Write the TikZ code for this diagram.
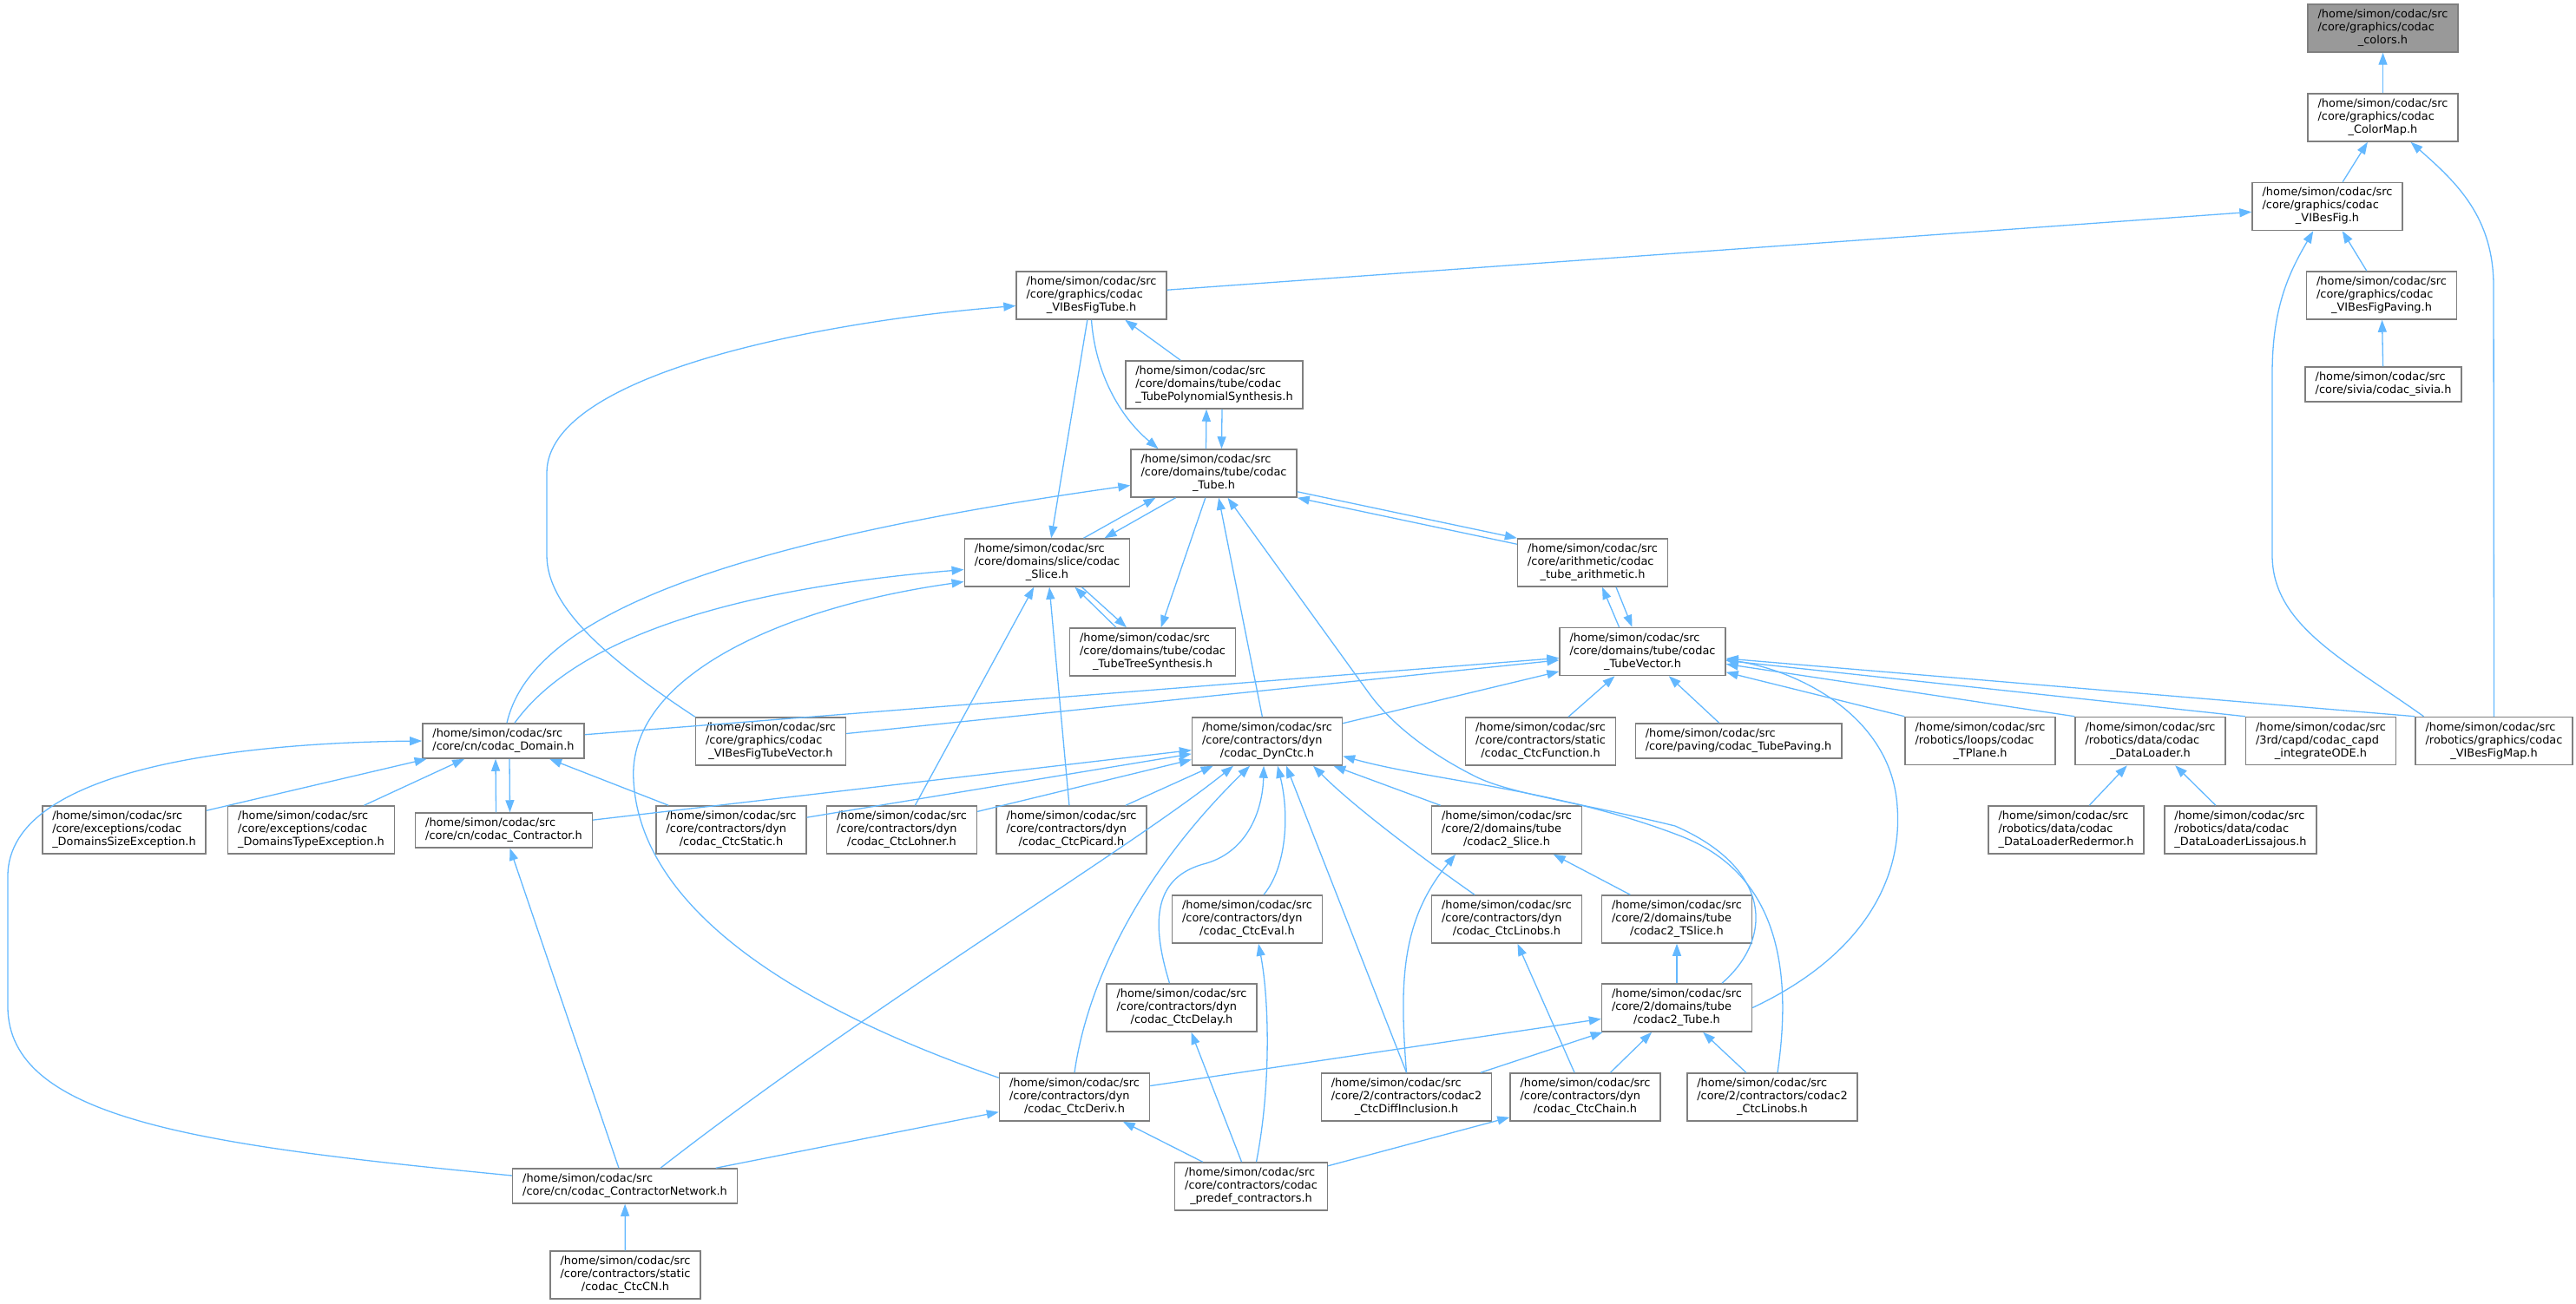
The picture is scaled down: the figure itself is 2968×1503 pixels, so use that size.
\documentclass[tikz,border=0pt]{standalone}
\usepackage{fontspec}
\setmainfont{DejaVu Sans}
\usepackage{tikz}
\usetikzlibrary{arrows.meta}
\definecolor{edgeblue}{HTML}{63B8FF}
\definecolor{boxgray}{HTML}{7F7F7F}
\definecolor{rootgray}{HTML}{999999}
\newcommand{\srcpath}[2]{\begin{tabular}{@{}l@{}}/home/simon/codac/src\\#1\\\multicolumn{1}{@{}c@{}}{#2}\end{tabular}}
\newcommand{\srcpathb}[1]{\begin{tabular}{@{}l@{}}/home/simon/codac/src\\#1\end{tabular}}

\begin{document}
\begin{tikzpicture}[x=1pt, y=-1pt,
    file/.style={draw=boxgray, line width=1.5pt, fill=white, inner xsep=11.5pt, inner ysep=5pt, font={\fontsize{12.9}{15}\selectfont}},
    rootfile/.style={file, fill=rootgray},
    inc/.style={draw=edgeblue, line width=1.3pt, -{Triangle[length=14pt,width=10pt]}}]
    \useasboundingbox (0,0) rectangle (2968,1503);

    % graphics
    \node[rootfile] (colors) at (2745.5,32.5) {\srcpath{/core/graphics/codac}{\_colors.h}};
    \node[file] (cmap) at (2745.5,135.5) {\srcpath{/core/graphics/codac}{\_ColorMap.h}};
    \node[file] (vbfig) at (2681.5,238) {\srcpath{/core/graphics/codac}{\_VIBesFig.h}};
    \node[file] (vbftube) at (1257.5,340.5) {\srcpath{/core/graphics/codac}{\_VIBesFigTube.h}};
    \node[file] (vbfpaving) at (2744,340.5) {\srcpath{/core/graphics/codac}{\_VIBesFigPaving.h}};
    \node[file] (tps) at (1399,443.5) {\srcpath{/core/domains/tube/codac}{\_TubePolynomialSynthesis.h}};
    \node[file] (sivia) at (2746,443) {\srcpathb{/core/sivia/codac\_sivia.h}};

    % domains
    \node[file] (tube) at (1398.5,545.5) {\srcpath{/core/domains/tube/codac}{\_Tube.h}};
    \node[file] (slice) at (1206.5,648.5) {\srcpath{/core/domains/slice/codac}{\_Slice.h}};
    \node[file] (arith) at (1835,648.5) {\srcpath{/core/arithmetic/codac}{\_tube\_arithmetic.h}};
    \node[file] (tts) at (1328,751.5) {\srcpath{/core/domains/tube/codac}{\_TubeTreeSynthesis.h}};
    \node[file] (tvec) at (1892.5,751) {\srcpath{/core/domains/tube/codac}{\_TubeVector.h}};

    \node[file] (domain) at (580,854) {\srcpathb{/core/cn/codac\_Domain.h}};
    \node[file] (vbftvec) at (888,854.5) {\srcpath{/core/graphics/codac}{\_VIBesFigTubeVector.h}};
    \node[file] (dynctc) at (1460,854.5) {\srcpath{/core/contractors/dyn}{/codac\_DynCtc.h}};
    \node[file] (ctcfunc) at (1775,854.5) {\srcpath{/core/contractors/static}{/codac\_CtcFunction.h}};
    \node[file] (tpaving) at (2003,854) {\srcpathb{/core/paving/codac\_TubePaving.h}};
    \node[file] (tplane) at (2281.5,854) {\srcpath{/robotics/loops/codac}{\_TPlane.h}};
    \node[file] (dloader) at (2477.5,854) {\srcpath{/robotics/data/codac}{\_DataLoader.h}};
    \node[file] (capd) at (2674,854) {\srcpath{/3rd/capd/codac\_capd}{\_integrateODE.h}};
    \node[file] (vbfmap) at (2873.5,854) {\srcpath{/robotics/graphics/codac}{\_VIBesFigMap.h}};

    % contractors
    \node[file] (dsizeexc) at (143,956.5) {\srcpath{/core/exceptions/codac}{\_DomainsSizeException.h}};
    \node[file] (dtypeexc) at (358.5,956.5) {\srcpath{/core/exceptions/codac}{\_DomainsTypeException.h}};
    \node[file] (contractor) at (580.5,957) {\srcpathb{/core/cn/codac\_Contractor.h}};
    \node[file] (ctcstatic) at (842.5,956.5) {\srcpath{/core/contractors/dyn}{/codac\_CtcStatic.h}};
    \node[file] (ctclohner) at (1039,956.5) {\srcpath{/core/contractors/dyn}{/codac\_CtcLohner.h}};
    \node[file] (ctcpicard) at (1234.5,956.5) {\srcpath{/core/contractors/dyn}{/codac\_CtcPicard.h}};
    \node[file] (cslice) at (1736,956.5) {\srcpath{/core/2/domains/tube}{/codac2\_Slice.h}};
    \node[file] (dlredermor) at (2380.5,956.5) {\srcpath{/robotics/data/codac}{\_DataLoaderRedermor.h}};
    \node[file] (dllissajous) at (2581.5,956.5) {\srcpath{/robotics/data/codac}{\_DataLoaderLissajous.h}};

    \node[file] (ctceval) at (1437,1059.5) {\srcpath{/core/contractors/dyn}{/codac\_CtcEval.h}};
    \node[file] (ctclinobs) at (1736,1059.5) {\srcpath{/core/contractors/dyn}{/codac\_CtcLinobs.h}};
    \node[file] (ctslice) at (1932,1059.5) {\srcpath{/core/2/domains/tube}{/codac2\_TSlice.h}};
    \node[file] (ctcdelay) at (1361.5,1161.5) {\srcpath{/core/contractors/dyn}{/codac\_CtcDelay.h}};
    \node[file] (ctube) at (1932,1161.5) {\srcpath{/core/2/domains/tube}{/codac2\_Tube.h}};
    \node[file] (ctcderiv) at (1238,1264.5) {\srcpath{/core/contractors/dyn}{/codac\_CtcDeriv.h}};
    \node[file] (cdiffincl) at (1620.5,1264.5) {\srcpath{/core/2/contractors/codac2}{\_CtcDiffInclusion.h}};
    \node[file] (ctcchain) at (1826.5,1264.5) {\srcpath{/core/contractors/dyn}{/codac\_CtcChain.h}};
    \node[file] (clinobs) at (2042,1264.5) {\srcpath{/core/2/contractors/codac2}{\_CtcLinobs.h}};
    \node[file] (cnet) at (720,1367) {\srcpathb{/core/cn/codac\_ContractorNetwork.h}};
    \node[file] (predef) at (1441.5,1367.5) {\srcpath{/core/contractors/codac}{\_predef\_contractors.h}};
    \node[file] (ctccn) at (720.5,1469.5) {\srcpath{/core/contractors/static}{/codac\_CtcCN.h}};

    % top part
    \draw[inc] (cmap) -- (colors);
    \draw[inc] (vbfig) -- (cmap);
    \draw[inc] (vbfmap.north) -- (2873,330) .. controls (2873,250) and (2830,210) .. (cmap);
    \draw[inc] (vbftube) -- (vbfig);
    \draw[inc] (vbfpaving) -- (vbfig);
    \draw[inc] ([xshift=-81pt]vbfmap.north) .. controls (2700,760) and (2618,720) .. (2618,640) -- (2618,430) .. controls (2618,350) and (2640,310) .. (vbfig);
    \draw[inc] (sivia) -- (vbfpaving);
    \draw[inc] (tps) -- (vbftube);
    \draw[inc] ([xshift=-9pt]tube.north) -- ([xshift=-9pt]tps.south);
    \draw[inc] ([xshift=9pt]tps.south) -- ([xshift=9pt]tube.north);
    \draw[inc] (vbftube.south) .. controls (1262,430) and (1290,480) .. ([xshift=-64pt]tube.north);
    \draw[inc] (vbftube) -- (slice);
    \draw[inc] (vbftvec.north west) .. controls (700,760) and (630,700) .. (630,640) -- (630,545) .. controls (630,430) and (950,370) .. ([yshift=-12pt]vbftube.west);

    % tube, slice, vector
    \draw[inc] ([xshift=42pt]slice.north) -- ([xshift=-67pt]tube.south);
    \draw[inc] ([xshift=-44pt]tube.south) -- ([xshift=66pt]slice.north);
    \draw[inc] ([yshift=7pt]tube.south east) -- (arith.north west);
    \draw[inc] ([yshift=-7pt]arith.north west) -- (tube.south east);
    \draw[inc] ([xshift=4pt]domain.north) .. controls (610,720) and (800,630) .. ([yshift=-14pt]tube.west);
    \draw[inc] ([xshift=13pt]domain.north) .. controls (660,740) and (830,680) .. ([yshift=-8pt]slice.west);
    \draw[inc] (tube) -- (tts);
    \draw[inc] ([xshift=40pt]slice.south) -- ([xshift=-30pt]tts.north);
    \draw[inc] ([xshift=-42pt]tts.north) -- ([xshift=32pt]slice.south);
    \draw[inc] (dynctc) -- (tube);
    \draw[inc] ([xshift=52pt]ctube.north) .. controls (2045,1080) and (2040,1000) .. (1930,952) .. controls (1820,925) and (1740,915) .. (1700,895) .. controls (1640,865) and (1600,830) .. (1578,800) -- ([xshift=16pt]tube.south);
    \draw[inc] ([xshift=-27pt]tvec.north) -- ([xshift=11pt]arith.south);
    \draw[inc] ([xshift=27pt]arith.south) -- ([xshift=-12pt]tvec.north);
    \draw[inc] (domain) -- (tvec);
    \draw[inc] (vbftvec) -- (tvec);
    \draw[inc] (dynctc) -- (tvec);
    \draw[inc] (ctcfunc) -- (tvec);
    \draw[inc] (tpaving) -- (tvec);
    \draw[inc] (tplane.north west) -- (tvec);
    \draw[inc] (dloader.north west) -- (tvec);
    \draw[inc] (capd.north west) -- (tvec);
    \draw[inc] (vbfmap.north west) -- (tvec);
    \draw[inc] (ctube.east) .. controls (2150,1100) and (2192,1010) .. (2186,930) .. controls (2180,830) and (2080,775) .. ([yshift=-9pt]tvec.east);
    \draw[inc] (dlredermor) -- (dloader);
    \draw[inc] (dllissajous) -- (dloader);

    % domain and network
    \draw[inc] (dsizeexc) -- (domain);
    \draw[inc] (dtypeexc) -- (domain);
    \draw[inc] ([xshift=-9pt]contractor.north) -- ([xshift=-9pt]domain.south);
    \draw[inc] ([xshift=7pt]domain.south) -- ([xshift=7pt]contractor.north);
    \draw[inc] (ctcstatic) -- (domain);
    \draw[inc] ([yshift=12pt]cnet.west) .. controls (230,1320) and (9,1290) .. (9,1160) -- (9,1010) .. controls (9,880) and (300,856) .. (domain.west);
    \draw[inc] (cnet) -- (contractor);
    \draw[inc] ([xshift=41pt]cnet.north) .. controls (1000,1160) and (1300,980) .. ([xshift=-39pt]dynctc.south);
    \draw[inc] (cnet) -- (ctcderiv);
    \draw[inc] (ctccn) -- (cnet);

    % slice
    \draw[inc] ([yshift=-6pt]ctcderiv.north west) .. controls (1000,1190) and (740,1080) .. (730,900) .. controls (722,780) and (900,700) .. ([yshift=-22pt]slice.west);
    \draw[inc] (ctclohner) -- (slice);
    \draw[inc] (ctcpicard) -- (slice);

    % dynctc
    \draw[inc] (contractor) -- (dynctc);
    \draw[inc] (ctcstatic) -- (dynctc);
    \draw[inc] (ctclohner) -- (dynctc);
    \draw[inc] (ctcpicard) -- (dynctc);
    \draw[inc] (cslice) -- (dynctc);
    \draw[inc] ([xshift=-37pt]ctclinobs.north) .. controls (1640,990) and (1560,930) .. ([xshift=53pt]dynctc.south);
    \draw[inc] ([xshift=19pt]ctceval.north) .. controls (1482,1000) and (1486,940) .. ([xshift=12pt]dynctc.south);
    \draw[inc] ([xshift=-14pt]ctcdelay.north) .. controls (1325,1060) and (1330,1010) .. (1390,995) .. controls (1440,980) and (1455,930) .. ([xshift=-4pt]dynctc.south);
    \draw[inc] (ctcderiv.north) .. controls (1250,1150) and (1300,1020) .. ([xshift=-20pt]dynctc.south);
    \draw[inc] (cdiffincl.north) -- ([xshift=22pt]dynctc.south);
    \draw[inc] ([xshift=6pt]clinobs.north) .. controls (2065,1120) and (2050,1010) .. (1940,965) .. controls (1800,910) and (1650,900) .. ([yshift=-17pt]dynctc.east);

    % codac2 and predef
    \draw[inc] (cdiffincl.north) .. controls (1612,1130) and (1615,1060) .. ([xshift=-59pt]cslice.south);
    \draw[inc] (ctcderiv) -- (ctube);
    \draw[inc] (cdiffincl) -- (ctube);
    \draw[inc] (ctcchain) -- (ctube);
    \draw[inc] (clinobs) -- (ctube);
    \draw[inc] (ctube) -- (ctslice);
    \draw[inc] (ctslice) -- (cslice);
    \draw[inc] (ctcchain) -- (ctclinobs);
    \draw[inc] (predef) -- (ctcchain);
    \draw[inc] (predef) -- (ctcderiv);
    \draw[inc] (predef) -- (ctcdelay);
    \draw[inc] ([xshift=6pt]predef.north) .. controls (1465,1250) and (1462,1150) .. ([xshift=13pt]ctceval.south);
\end{tikzpicture}
\end{document}
